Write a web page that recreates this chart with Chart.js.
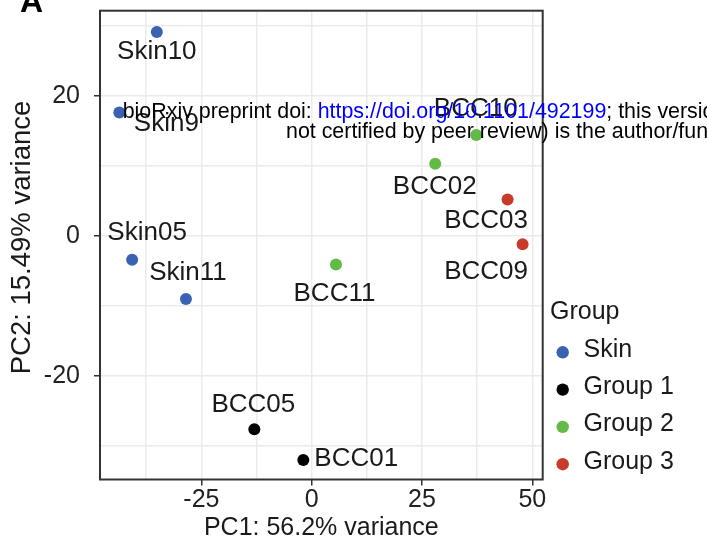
<!DOCTYPE html>
<html>
<head>
<meta charset="utf-8">
<script src="https://cdn.jsdelivr.net/npm/chart.js"></script>
<style>html,body{margin:0;padding:0;background:#fff;overflow:hidden}</style>
</head>
<body>
<canvas id="pca" width="707" height="541"></canvas>
<script>
'use strict'
const groups = ['Skin', 'Group 1', 'Group 2', 'Group 3']
const groupColors = ['#3A62B2', '#000000', '#63BB47', '#C83B2A']
const sampleNames = ['Skin10', 'Skin9', 'Skin05', 'Skin11', 'BCC05', 'BCC01', 'BCC11', 'BCC02', 'BCC10', 'BCC03', 'BCC09']
const sampleGroup = [0, 0, 0, 0, 1, 1, 2, 2, 2, 3, 3]
const pc1 = [-35.1, -43.6, -40.7, -28.5, -13.0, -1.9, 5.5, 28.0, 37.3, 44.4, 47.8]
const pc2 = [29.1, 17.6, -3.4, -9.0, -27.6, -32.0, -4.1, 10.3, 14.4, 5.2, -1.2]
const xGrid = [-37.5, -25, -12.5, 0, 12.5, 25, 37.5, 50]
const yGrid = [-30, -20, -10, 0, 10, 20, 30]
const xLabelled = [-25, 0, 25, 50]
const yLabelled = [-20, 0, 20]

// where ggrepel put each label, relative to its point (px)
const labelNudge = {
  Skin10: [0, 20], Skin9: [47, 11], Skin05: [15, -26.5], Skin11: [2, -26],
  BCC05: [-1, -24], BCC01: [11, -1, 'left'], BCC11: [-1.5, 29],
  BCC02: [-0.5, 23], BCC10: [-0.5, -26], BCC03: [-21.5, 21.5], BCC09: [-36.5, 28]
}

const FONT = '"Liberation Sans", Arial, sans-serif'
const ink = '#1a1a1a'

let datasets = groups.map((g, gi)=>({
  label: g,
  data: pc1.map((x, i)=>({x: x, y: pc2[i], name: sampleNames[i]})).filter((p, i)=>sampleGroup[i] === gi),
  backgroundColor: groupColors[gi],
  borderColor: groupColors[gi],
  borderWidth: 0,
  pointRadius: 6,
  pointHoverRadius: 6
}))

const decorations = {
  id: 'decorations',
  afterDatasetsDraw(chart){
    const ctx = chart.ctx
    const a = chart.chartArea
    ctx.save()
    // point labels
    ctx.font = '26px ' + FONT
    ctx.fillStyle = ink
    ctx.textBaseline = 'middle'
    chart.data.datasets.forEach((ds, di)=>{
      chart.getDatasetMeta(di).data.forEach((el, i)=>{
        const n = labelNudge[ds.data[i].name] || [0, 0]
        ctx.textAlign = n[2] || 'center'
        ctx.fillText(ds.data[i].name, el.x + n[0], el.y + n[1])
      })
    })
    // panel border
    ctx.strokeStyle = '#333333'
    ctx.lineWidth = 2
    ctx.strokeRect(a.left, a.top, a.right - a.left, a.bottom - a.top)
    // legend
    ctx.font = '25px ' + FONT
    ctx.textAlign = 'left'
    ctx.fillStyle = ink
    ctx.fillText('Group', 550, 312.5)
    chart.data.datasets.forEach((ds, di)=>{
      const y = 352.3 + di * 37.3
      ctx.beginPath()
      ctx.arc(562.7, y, 6.2, 0, Math.PI * 2)
      ctx.fillStyle = ds.backgroundColor
      ctx.fill()
      ctx.fillStyle = ink
      ctx.fillText(ds.label, 583.5, y - 2.5)
    })
    ctx.restore()
  },
  afterDraw(chart){
    const ctx = chart.ctx
    ctx.save()
    ctx.textBaseline = 'alphabetic'
    ctx.textAlign = 'left'
    ctx.fillStyle = '#000'
    ctx.font = 'bold 32px ' + FONT
    ctx.fillText('A', 20, 12)
    // bioRxiv watermark
    ctx.font = '21.4px ' + FONT
    let x = 122.7
    const parts = [['bioRxiv preprint doi: ', '#000'], ['https://doi.org/10.1101/492199', '#0000FF'],
      ['; this version posted December 11, 2018. The copyright holder for this preprint (which was', '#000']]
    for(const [t, c] of parts){
      ctx.fillStyle = c
      ctx.fillText(t, x, 118.3)
      x += ctx.measureText(t).width
    }
    ctx.fillStyle = '#000'
    ctx.fillText('not certified by peer review) is the author/funder, who has granted bioRxiv a license to display the preprint in perpetuity.', 286, 138.3)
    ctx.restore()
  }
}

const tickFont = {family: FONT, size: 25}

const config = {
  type: 'scatter',
  data: {datasets: datasets},
  options: {
    responsive: false,
    animation: false,
    devicePixelRatio: 1,
    layout: {padding: {left: 0, top: 10.7, right: 164.3, bottom: 0}},
    plugins: {legend: {display: false}, tooltip: {enabled: false}},
    scales: {
      x: {
        type: 'linear', min: -47.98, max: 52.36,
        afterFit: s=>{ s.height = 61.5; s.paddingLeft = 0; s.paddingRight = 0 },
        afterBuildTicks: s=>{ s.ticks = xGrid.map(v=>({value: v})) },
        border: {display: false},
        grid: {color: '#EBEBEB', lineWidth: 1.5, tickLength: 6, tickWidth: 1.5,
          tickColor: c=>xLabelled.includes(c.tick && c.tick.value) ? '#333333' : 'rgba(0,0,0,0)'},
        ticks: {autoSkip: false, maxRotation: 0, padding: 0, color: '#222', font: tickFont,
          callback: v=>xLabelled.includes(v) ? String(v) : ''},
        title: {display: true, text: 'PC1: 56.2% variance', color: ink,
          font: {family: FONT, size: 25, lineHeight: 1}, padding: {top: 0, bottom: 0.5}}
      },
      y: {
        type: 'linear', min: -34.77, max: 32.13,
        afterFit: s=>{ s.width = 100; s.paddingTop = 0; s.paddingBottom = 0 },
        afterBuildTicks: s=>{ s.ticks = yGrid.map(v=>({value: v})) },
        border: {display: false},
        grid: {color: '#EBEBEB', lineWidth: 1.5, tickLength: 6, tickWidth: 1.5,
          tickColor: c=>yLabelled.includes(c.tick && c.tick.value) ? '#333333' : 'rgba(0,0,0,0)'},
        ticks: {autoSkip: false, padding: 14, color: '#222', font: tickFont,
          callback: v=>yLabelled.includes(v) ? String(v) : ''},
        title: {display: true, text: '  PC2: 15.49% variance', color: ink,
          font: {family: FONT, size: 27.5, lineHeight: 1}, padding: {top: 8.5, bottom: 0}}
      }
    }
  },
  plugins: [decorations]
}

new Chart(document.getElementById('pca'), config)
</script>
</body>
</html>
